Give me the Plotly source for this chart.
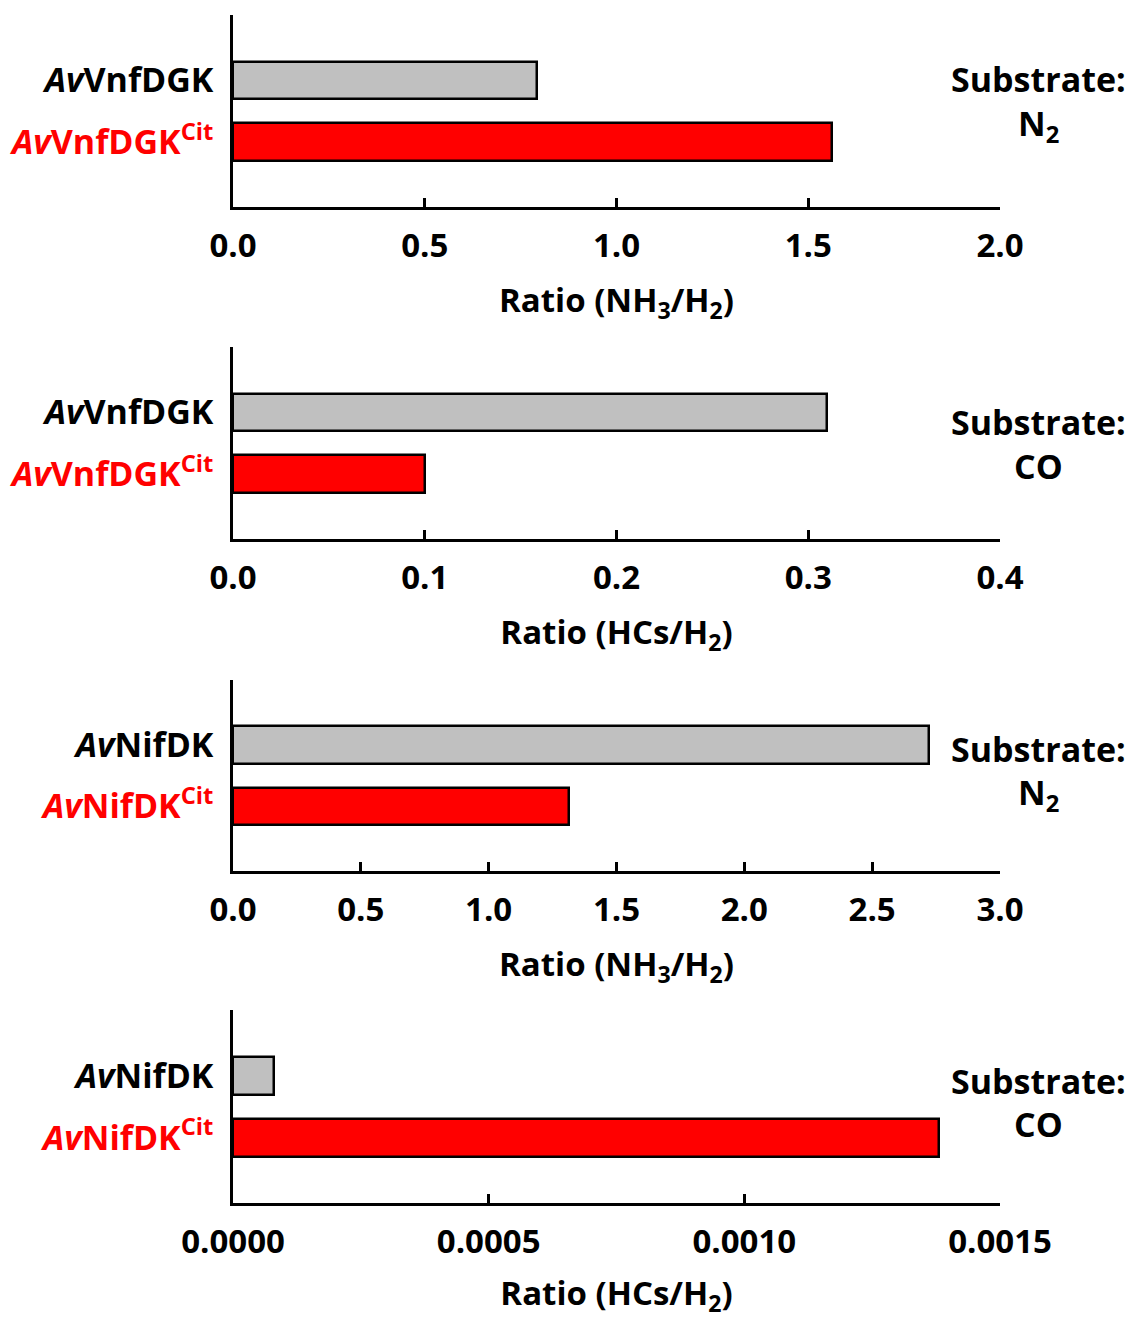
import plotly.graph_objects as go

W, H = 1129, 1319

# Ratio data for each panel: [wild-type, citrate variant]
panel_labels = [
    ["<i>Av</i>VnfDGK", "<i>Av</i>VnfDGK<sup>Cit</sup>"],
    ["<i>Av</i>VnfDGK", "<i>Av</i>VnfDGK<sup>Cit</sup>"],
    ["<i>Av</i>NifDK", "<i>Av</i>NifDK<sup>Cit</sup>"],
    ["<i>Av</i>NifDK", "<i>Av</i>NifDK<sup>Cit</sup>"],
]
vnf_n2 = [0.793, 1.562]
vnf_co = [0.310, 0.100]
nif_n2 = [2.722, 1.314]
nif_co = [0.0000802, 0.001381]
panel_values = [vnf_n2, vnf_co, nif_n2, nif_co]

x_ranges = [[0, 2.0], [0, 0.4], [0, 3.0], [0, 0.0015]]
x_dticks = [0.5, 0.1, 0.5, 0.0005]
x_formats = [".1f", ".1f", ".1f", ".4f"]
x_titles = [
    "Ratio (NH<sub>3</sub>/H<sub>2</sub>)",
    "Ratio (HCs/H<sub>2</sub>)",
    "Ratio (NH<sub>3</sub>/H<sub>2</sub>)",
    "Ratio (HCs/H<sub>2</sub>)",
]
substrates = ["N<sub>2</sub>", "CO", "N<sub>2</sub>", "CO"]

# vertical placement (in category units) of the two substrate text lines
substrate_y = [(-0.02, 0.72), (0.15, 0.87), (0.06, 0.80), (0.08, 0.78)]

# vertical extent of each plot area in pixels (top, bottom)
panel_px = [(15, 207), (347, 539), (680, 871), (1010, 1203)]
x_px = (233, 1000)

bar_colors = ["#c0c0c0", "#ff0000"]
label_colors = ["black", "red"]
FONT = "Open Sans"

fig = go.Figure()
annotations = []

for i in range(4):
    n = "" if i == 0 else str(i + 1)
    top, bot = panel_px[i]
    ydom = [1 - bot / H, 1 - top / H]
    xdom = [x_px[0] / W, x_px[1] / W]

    fig.add_trace(go.Bar(
        x=panel_values[i], y=[0, 1], orientation="h",
        width=0.61,
        marker=dict(color=bar_colors, line=dict(color="black", width=2.5)),
        xaxis="x" + n, yaxis="y" + n, showlegend=False,
    ))

    ticktext = [
        f'<span style="color:{c}">{t}</span>'
        for t, c in zip(panel_labels[i], label_colors)
    ]

    fig.layout["xaxis" + n] = dict(
        domain=xdom, anchor="y" + n, range=x_ranges[i],
        tick0=0, dtick=x_dticks[i], tickformat=x_formats[i],
        showline=True, linecolor="black", linewidth=2.5,
        ticks="inside", ticklen=9, tickwidth=2.5, tickcolor="black",
        showgrid=False, zeroline=False, automargin=False,
        tickfont=dict(family=FONT, size=33, color="black", weight="bold"),
        ticklabelstandoff=8,
        title=dict(text="<b>" + x_titles[i] + "</b>",
                   font=dict(family=FONT, size=33, color="black"),
                   standoff=23),
        fixedrange=True,
    )
    fig.layout["yaxis" + n] = dict(
        domain=ydom, anchor="x" + n, range=[2.05, -1.06],
        tickmode="array", tickvals=[0, 1], ticktext=ticktext,
        showline=True, linecolor="black", linewidth=2.5,
        ticks="", showgrid=False, zeroline=False, automargin=False,
        tickfont=dict(family=FONT, size=34, weight="bold"),
        ticklabelstandoff=10,
        fixedrange=True,
    )

    sy1, sy2 = substrate_y[i]
    annotations.append(dict(
        xref="paper", yref="y" + n, x=1038 / W, y=sy1, xanchor="center",
        yanchor="middle", text="<b>Substrate:</b>", showarrow=False,
        font=dict(family=FONT, size=34, color="black"),
    ))
    annotations.append(dict(
        xref="paper", yref="y" + n, x=1038 / W, y=sy2, xanchor="center",
        yanchor="middle", text="<b>" + substrates[i] + "</b>", showarrow=False,
        font=dict(family=FONT, size=34, color="black"),
    ))

fig.update_layout(
    width=W, height=H,
    margin=dict(l=0, r=0, t=0, b=0),
    paper_bgcolor="white", plot_bgcolor="white",
    annotations=annotations,
    bargap=0,
)

fig.write_html("out.html")
